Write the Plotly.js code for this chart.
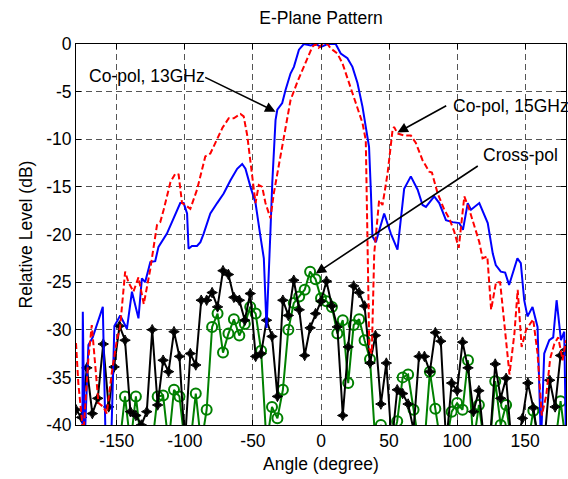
<!DOCTYPE html>
<html>
<head>
<meta charset="utf-8">
<script src="https://cdn.plot.ly/plotly-3.0.1.min.js"></script>
<style>html,body{margin:0;padding:0;background:#fff;}#chart{width:568px;height:479px;}</style>
</head>
<body>
<div id="chart"></div>
<script>
// Co-pol 13 GHz (blue solid)
const blueAngle = [-175.4,-175.0,-173.7,-170.9,-167.7,-160.3,-158.2,-154.2,-151.8,-147.5,-142.6,-138.9,-134.1,-131.6,-129.2,-125.4,-121.8,-119.4,-113.2,-108.5,-103.4,-100.9,-98.4,-97.3,-94.8,-91.1,-88.6,-86.2,-81.3,-76.3,-71.5,-66.5,-61.6,-57.9,-55.5,-51.8,-48.1,-44.5,-42.0,-40.0,-38.3,-37.1,-35.8,-33.4,-32.1,-28.5,-26.0,-22.4,-19.9,-16.2,-12.6,-7.6,-3.9,0,4.9,10.8,14.5,19.4,23.1,26.8,30.5,32.9,35.3,36.6,37.8,40.3,46.4,51.3,56.2,61.1,66.0,71.0,74.6,77.1,83.2,86.9,91.8,96.7,101.6,104.3,107.8,110.2,116.3,122.5,126.2,128.4,132.1,135.3,138.2,141.9,144.3,146.8,149.3,151.7,155.4,159.1,161.6,164.0,167.7,170.6,173.1,176.3,178.7,180];
const blueLevel = [-45,-28.1,-42,-31.6,-30.8,-27.6,-42,-42,-29.6,-28.5,-29.9,-26.0,-28.8,-24.6,-25.0,-22.9,-22.8,-21.3,-19.9,-18.3,-16.7,-16.7,-17.8,-21.5,-21.2,-21.2,-20.8,-19.9,-17.8,-16.7,-15.7,-14.3,-13.1,-12.6,-13.1,-15.0,-16.7,-20.2,-22.5,-29.8,-22.7,-19.5,-14.6,-8.0,-6.9,-6.2,-4.8,-3.1,-2.4,-0.6,0,-0.15,0,-0.3,0,0,-1.0,-1.5,-2.4,-4.1,-6.6,-8.7,-10.8,-15.3,-20.2,-20.8,-17.8,-19.9,-21.6,-15.2,-13.9,-15.3,-16.9,-17.1,-16.0,-16.7,-18.5,-18.7,-18.8,-19.5,-16.7,-17.4,-16.7,-18.8,-22.0,-23.2,-23.9,-24.0,-25.3,-23.6,-22.5,-23.0,-26.9,-28.6,-27.6,-29.7,-42,-32.5,-31.1,-30.8,-26.9,-31.1,-30.2,-42];

// Co-pol 15 GHz (red dashed)
const redAngle = [-180,-178.3,-174.6,-170.9,-168.4,-166.0,-163.5,-159.9,-157.4,-153.7,-150.0,-147.6,-143.9,-141.5,-137.8,-134.1,-130.2,-125.5,-124.0,-120.5,-118.1,-115.6,-110.6,-107.0,-104.6,-102.1,-99.7,-96.0,-91.1,-85.0,-81.3,-76.3,-72.4,-67.8,-64.1,-59.2,-56.8,-54.2,-50.6,-48.1,-45.7,-43.2,-40.8,-37.1,-34.7,-31.0,-27.3,-22.4,-17.4,-12.6,-8.9,-6.4,-3.9,-1.7,1.2,4.7,7.1,12.0,15.7,20.6,25.5,30.5,32.9,35.5,37.3,39.1,42.7,45.2,48.9,52.6,53.7,56.2,61.1,66.0,69.7,74.6,79.5,81.5,85.7,90.6,94.2,97.9,101.2,105.3,109.0,112.7,116.3,118.7,122.2,125.0,128.6,131.6,134.8,138.5,142.1,144.5,147.4,150.7,155.9,159.1,162.2,165.5,168.4,171.4,174.3,177.5,180];
const redLevel = [-31.4,-35.6,-41,-33.0,-29.5,-33.2,-37.7,-38.1,-38.8,-34.5,-31.1,-29.7,-23.9,-25.0,-26.0,-24.5,-27.3,-23.7,-22.2,-19.0,-18.7,-17.4,-14.5,-13.6,-13.7,-16.7,-16.9,-17.3,-15.3,-11.8,-11.5,-9.9,-8.8,-7.8,-7.8,-7.35,-7.6,-9.6,-13.6,-16.7,-14.8,-15.0,-16.7,-18.3,-15.7,-12.7,-10.1,-5.9,-4.0,-2.4,-1.0,-0.3,0,-0.4,0,0,-0.45,-1.0,-2.0,-4.1,-6.2,-8.3,-10.1,-32.0,-32.5,-22.0,-16.4,-16.9,-13.6,-9.0,-8.7,-9.4,-9.6,-9.6,-10.4,-12.2,-13.4,-13.5,-15.7,-17.4,-18.3,-19.7,-21.4,-16.0,-17.4,-19.2,-20.8,-22.5,-22.3,-27.9,-25.0,-25.0,-29.5,-34.7,-30.4,-25.8,-31.8,-30.0,-28.9,-32.5,-39.0,-36.9,-33.0,-31.5,-30.8,-33.2,-31.1];

// Cross-pol, measured every 4 degrees
const crossAngle = [-180,-176,-172,-168,-164,-160,-156,-152,-148,-144,-140,-136,-132,-128,-124,-120,-116,-112,-108,-104,-100,-96,-92,-88,-84,-80,-76,-72,-68,-64,-60,-56,-52,-48,-44,-40,-36,-32,-28,-24,-20,-16,-12,-8,-4,0,4,8,12,16,20,24,28,32,36,40,44,48,52,56,60,64,68,72,76,80,84,88,92,96,100,104,108,112,116,120,124,128,132,136,140,144,148,152,156,160,164,168,172,176,180];
const blackLevel = [-38.4,-39.2,-34.0,-38.8,-37.2,-31.5,-38.1,-33.9,-29.6,-31.1,-38.6,-39.0,-40.0,-38.6,-30.0,-37.9,-33.2,-34.4,-30.2,-32.8,-42,-32.5,-33.7,-26.9,-26.9,-26.1,-27.6,-23.8,-24.2,-26.6,-26.9,-29.0,-26.2,-32.8,-32.5,-29.0,-30.7,-37.0,-26.9,-28.5,-24.8,-27.9,-32.7,-29.8,-28.3,-27.0,-24.9,-27.5,-29.7,-39.0,-31.8,-25.4,-26.1,-27.5,-33.5,-30.6,-37.8,-33.5,-42,-36.3,-36.7,-37.8,-40.5,-32.8,-32.8,-34.4,-30.3,-31.2,-42,-35.6,-36.4,-31.3,-34.0,-38.6,-36.4,-42,-42,-33.6,-37.2,-35.1,-42,-42,-39.3,-35.6,-38.2,-42,-42,-35.3,-38.1,-32.7,-32.1];
const greenLevel = [-42,-42,-42,-42,-42,-42,-42,-42,-42,-37.0,-42,-37.0,-42,-42,-42,-37.0,-36.9,-42,-36.3,-37.0,-42,-42,-36.7,-42,-38.4,-29.7,-28.3,-32.4,-30.4,-28.9,-30.6,-29.4,-27.6,-28.3,-32.2,-42,-38.1,-39.3,-36.3,-30.0,-27.2,-26.5,-25.8,-23.9,-24.7,-26.7,-27.0,-27.6,-30.4,-29.0,-35.6,-29.5,-28.9,-31.1,-33.1,-42,-40.0,-42,-42,-39.6,-35.0,-34.7,-38.4,-42,-42,-34.4,-38.3,-42,-42,-38.6,-37.7,-38.4,-33.2,-42,-37.9,-42,-42,-35.4,-40.0,-37.9,-42,-42,-42,-42,-38.5,-42,-42,-42,-42,-37.5,-42];

const xTicks = [-150,-100,-50,0,50,100,150];
const yTicks = [-40,-35,-30,-25,-20,-15,-10,-5,0];

const FONT = 'Liberation Sans, Arial, Helvetica, sans-serif';
const FS = 17.5;

const traces = [
  {x: crossAngle, y: greenLevel, type: 'scatter', mode: 'lines+markers',
   line: {color: 'rgb(0,128,0)', width: 2},
   marker: {symbol: 'circle-open', size: 10, color: 'rgb(0,128,0)', line: {width: 2, color: 'rgb(0,128,0)'}},
   showlegend: false, hoverinfo: 'skip'},
  {x: crossAngle, y: blackLevel, type: 'scatter', mode: 'lines+markers',
   line: {color: '#000', width: 2},
   marker: {symbol: 'star-diamond', size: 7.5, color: '#000', line: {width: 1, color: '#000'}},
   showlegend: false, hoverinfo: 'skip'},
  {x: blueAngle, y: blueLevel, type: 'scatter', mode: 'lines',
   line: {color: 'rgb(0,0,255)', width: 2},
   showlegend: false, hoverinfo: 'skip'},
  {x: redAngle, y: redLevel, type: 'scatter', mode: 'lines',
   line: {color: 'rgb(255,0,0)', width: 2, dash: '6px,3px'},
   showlegend: false, hoverinfo: 'skip'}
];

const arrowCommon = {xref: 'x', yref: 'y', axref: 'x', ayref: 'y', text: '', showarrow: true,
  arrowhead: 2, arrowsize: 1.3, arrowwidth: 1.6, arrowcolor: '#000', standoff: 0, startstandoff: 0};

const layout = {
  width: 568, height: 479,
  margin: {l: 76, r: 2, t: 44, b: 54},
  paper_bgcolor: '#fff', plot_bgcolor: '#fff',
  font: {family: FONT, size: FS, color: '#000'},
  title: {text: 'E-Plane Pattern', font: {family: FONT, size: FS, color: '#000'},
          xref: 'paper', x: 0.5, xanchor: 'center', yref: 'container', y: 1 - 18/479, yanchor: 'middle'},
  xaxis: {range: [-180, 180], tickmode: 'array', tickvals: xTicks, ticktext: xTicks.map(String),
          ticks: 'inside', ticklen: 5, tickcolor: '#000', showline: true, linecolor: '#000', linewidth: 1,
          mirror: 'ticks', showgrid: true, gridcolor: '#555', gridwidth: 1, griddash: '6px,4px',
          zeroline: false, tickfont: {family: FONT, size: FS, color: '#000'},
          title: {text: 'Angle (degree)', font: {family: FONT, size: FS, color: '#000'}, standoff: 7},
          automargin: false, fixedrange: true},
  yaxis: {range: [-40, 0], tickmode: 'array', tickvals: yTicks, ticktext: yTicks.map(String),
          ticks: 'inside', ticklen: 5, tickcolor: '#000', showline: true, linecolor: '#000', linewidth: 1,
          mirror: 'ticks', showgrid: true, gridcolor: '#555', gridwidth: 1, griddash: '6px,4px',
          zeroline: false, tickfont: {family: FONT, size: FS, color: '#000'},
          title: {text: 'Relative Level (dB)', font: {family: FONT, size: FS, color: '#000'}, standoff: 9},
          automargin: false, fixedrange: true},
  annotations: [
    {xref: 'x', yref: 'y', x: -172.1, y: -3.36, xanchor: 'left', yanchor: 'middle', text: 'Co-pol, 13GHz', showarrow: false,
     font: {family: FONT, size: FS, color: '#000'}},
    {xref: 'x', yref: 'y', x: 95.5, y: -6.5, xanchor: 'left', yanchor: 'middle', text: 'Co-pol, 15GHz', showarrow: false,
     font: {family: FONT, size: FS, color: '#000'}},
    {xref: 'x', yref: 'y', x: 117.6, y: -11.65, xanchor: 'left', yanchor: 'middle', text: 'Cross-pol', showarrow: false,
     font: {family: FONT, size: FS, color: '#000'}},
    Object.assign({}, arrowCommon, {x: -33.4, y: -7.1, ax: -86.2, ay: -3.43}),
    Object.assign({}, arrowCommon, {x: 56.2, y: -9.3, ax: 93.1, ay: -6.4}),
    Object.assign({}, arrowCommon, {x: -3.9, y: -24.1, ax: 116.3, ay: -12.7})
  ],
  showlegend: false
};

Plotly.newPlot('chart', traces, layout, {staticPlot: true, displayModeBar: false});
</script>
</body>
</html>
